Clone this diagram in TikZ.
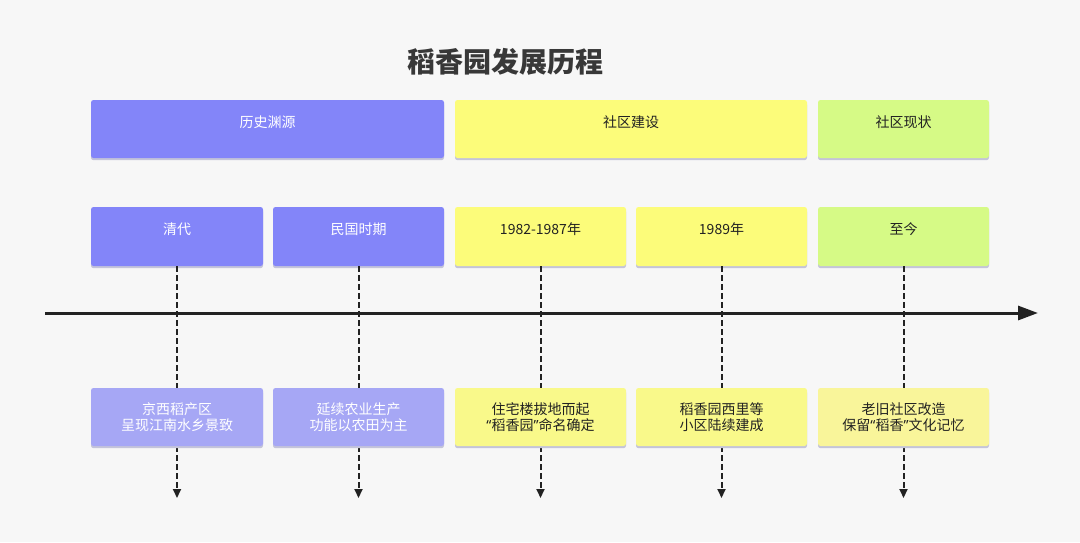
\documentclass[tikz,border=0pt]{standalone}
\usepackage{fontspec}
\newfontfamily\cjk{Noto Sans CJK SC}
\newfontfamily\lat{Noto Sans}
\usetikzlibrary{arrows.meta}
\definecolor{bg}{HTML}{F7F7F7}
\definecolor{purp}{HTML}{8385F9}
\definecolor{lpurp}{HTML}{A6A7F5}
\definecolor{yel}{HTML}{FCFC7A}
\definecolor{lyel}{HTML}{F9F98A}
\definecolor{pyel}{HTML}{F9F59A}
\definecolor{grn}{HTML}{D6FA86}
\definecolor{shad}{HTML}{C4C4DA}
\definecolor{ink}{HTML}{222222}
\newcommand{\myLq}{{\lat “}}
\newcommand{\myRq}{{\lat ”}}
\tikzset{
  box/.style={rounded corners=2.5pt, inner xsep=0pt, inner ysep=0pt, align=center,
    font=\cjk\fontsize{14}{16.5}\selectfont,
    preaction={fill=shad, transform canvas={yshift=-2.2pt}}},
  topbox/.style={box, minimum height=58pt, text height=27pt, text depth=31pt},
  rowbox/.style={box, minimum height=59pt, text height=27pt, text depth=32pt},
  botbox/.style={box, minimum height=58pt},
  conn/.style={draw=ink, line width=2pt, dash pattern=on 5.5pt off 3.5pt,
    -{Triangle[length=9pt,width=8pt]}},
  axis/.style={draw=ink, line width=3pt, -{Triangle[length=20pt,width=14pt]}}
}
\begin{document}
\begin{tikzpicture}[x=1pt,y=-1pt]
\fill[bg] (0,0) rectangle (1080,542);
\useasboundingbox (0,0) rectangle (1080,542);
\node[font=\cjk\bfseries\fontsize{28}{32}\selectfont, text=ink!90] (title) at (505,62) {稻香园发展历程};
% header row
\node[topbox, fill=purp, text=white, minimum width=353pt] (h1) at (267.5,129) {历史渊源};
\node[topbox, fill=yel, text=ink, minimum width=352pt] (h2) at (631,129) {社区建设};
\node[topbox, fill=grn, text=ink, minimum width=171pt] (h3) at (903.5,129) {社区现状};
% period row
\node[rowbox, fill=purp, text=white, minimum width=172pt] (q1) at (177,236.5) {清代};
\node[rowbox, fill=purp, text=white, minimum width=171pt] (q2) at (358.5,236.5) {民国时期};
\node[rowbox, fill=yel, text=ink, minimum width=171pt] (q3) at (540.5,236.5) {1982-1987年};
\node[rowbox, fill=yel, text=ink, minimum width=171pt] (q4) at (721.5,236.5) {1989年};
\node[rowbox, fill=grn, text=ink, minimum width=171pt] (q5) at (903.5,236.5) {至今};
% timeline
\coordinate (t0) at (45,313);
\coordinate (t1) at (1038,313);
\draw[axis] (t0) -- (t1);
% dashed connectors
\coordinate (e1) at (177,498);
\coordinate (e2) at (358.5,498);
\coordinate (e3) at (540.5,498);
\coordinate (e4) at (721.5,498);
\coordinate (e5) at (903.5,498);
\draw[conn] (q1.south) -- (e1);
\draw[conn] (q2.south) -- (e2);
\draw[conn] (q3.south) -- (e3);
\draw[conn] (q4.south) -- (e4);
\draw[conn] (q5.south) -- (e5);
% event row
\node[botbox, fill=lpurp, text=white, minimum width=172pt] (b1) at (177,417) {京西稻产区\\呈现江南水乡景致};
\node[botbox, fill=lpurp, text=white, minimum width=171pt] (b2) at (358.5,417) {延续农业生产\\功能以农田为主};
\node[botbox, fill=lyel, text=ink, minimum width=171pt] (b3) at (540.5,417) {住宅楼拔地而起\\\myLq 稻香园\myRq 命名确定};
\node[botbox, fill=lyel, text=ink, minimum width=171pt] (b4) at (721.5,417) {稻香园西里等\\小区陆续建成};
\node[botbox, fill=pyel, text=ink, minimum width=171pt] (b5) at (903.5,417) {老旧社区改造\\保留\myLq 稻香\myRq 文化记忆};
\end{tikzpicture}
\end{document}
